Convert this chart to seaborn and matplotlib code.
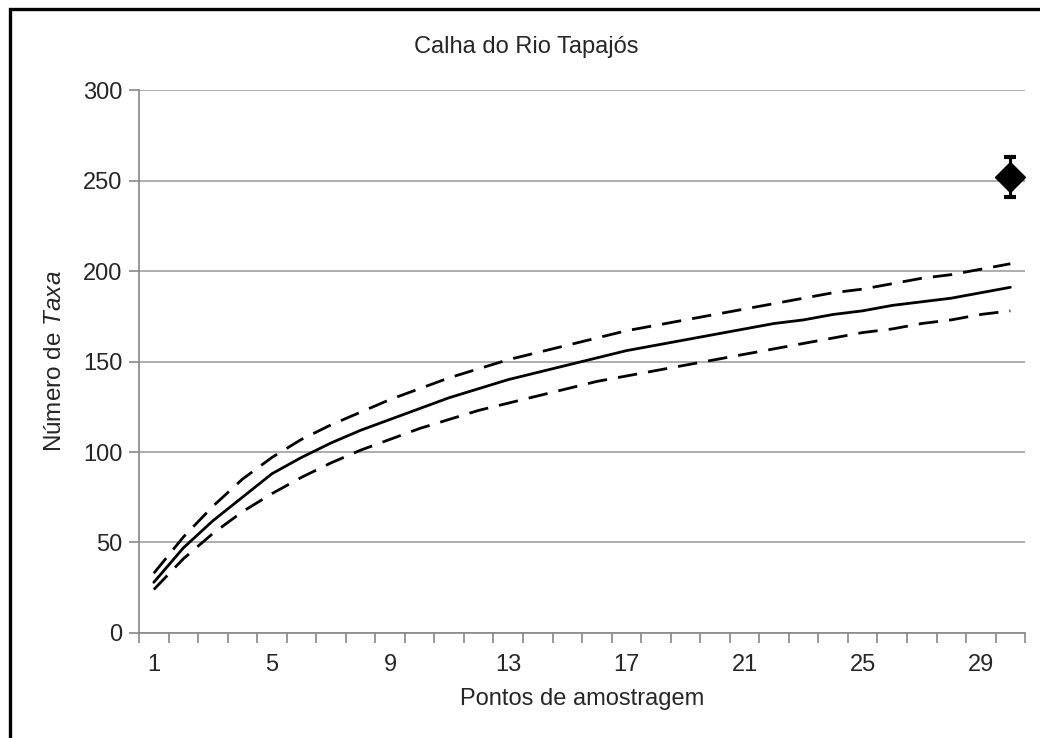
import matplotlib
matplotlib.use("Agg")
import matplotlib.pyplot as plt
import seaborn as sns
import pandas as pd
from matplotlib.patches import Rectangle

# data
pontos = list(range(1, 31))
media = [28, 47, 62, 75, 88, 97, 105, 112, 118, 124, 130, 135, 140, 144, 148,
         152, 156, 159, 162, 165, 168, 171, 173, 176, 178, 181, 183, 185, 188, 191]
superior = [33, 53, 70, 85, 97, 107, 115, 122, 129, 135, 141, 146, 151, 155, 159,
            163, 167, 170, 173, 176, 179, 182, 185, 188, 190, 193, 196, 198, 201, 204]
inferior = [24, 41, 55, 67, 77, 86, 94, 101, 107, 113, 118, 123, 127, 131, 135,
            139, 142, 145, 148, 151, 154, 157, 160, 163, 166, 168, 171, 173, 176, 178]
estimador_x = [30]
estimador_y = [252]
estimador_err = [11]
xticks = [1, 5, 9, 13, 17, 21, 25, 29]

sns.set_style("white")
plt.rcParams["font.family"] = ["Liberation Sans", "DejaVu Sans"]
plt.rcParams["mathtext.fontset"] = "custom"
plt.rcParams["mathtext.rm"] = "Liberation Sans"
plt.rcParams["mathtext.it"] = "Liberation Sans:italic"

df = pd.DataFrame({"ponto": pontos, "media": media,
                   "superior": superior, "inferior": inferior})

fig = plt.figure(figsize=(10.4, 7.38), dpi=100)
ax = fig.add_axes([0.1337, 0.1423, 0.852, 0.7357])

dash = (7, 4)
sns.lineplot(data=df, x="ponto", y="media", ax=ax, color="black", linewidth=2.0)
sns.lineplot(data=df, x="ponto", y="superior", ax=ax, color="black",
             linewidth=2.0).lines[-1].set_dashes(dash)
sns.lineplot(data=df, x="ponto", y="inferior", ax=ax, color="black",
             linewidth=2.0).lines[-1].set_dashes(dash)

ax.errorbar(estimador_x, estimador_y, yerr=estimador_err, fmt="D", color="black",
            markersize=15, elinewidth=2.2, capsize=4.5, capthick=3)

ax.set_xlim(0.5, 30.5)
ax.set_ylim(0, 300)
ax.set_yticks(range(0, 301, 50))
ax.set_xticks(xticks)
ax.set_xticks([i + 0.5 for i in range(0, 31)], minor=True)
ax.tick_params(axis="x", which="major", length=0, pad=15, labelsize=17)
ax.tick_params(axis="x", which="minor", length=7, width=1.2, color="#888888",
               direction="out", bottom=True)
ax.tick_params(axis="y", length=7, width=1.2, color="#888888", direction="out",
               left=True, labelsize=17, pad=5)
ax.grid(axis="y", color="#a0a0a0", linewidth=1.2)
ax.set_axisbelow(True)
for s in ["top", "right"]:
    ax.spines[s].set_visible(False)
for s in ["left", "bottom"]:
    ax.spines[s].set_color("#888888")
    ax.spines[s].set_linewidth(1.2)

fig.text(0.506, 0.936, "Calha do Rio Tapajós", fontsize=17, ha="center", va="center")
ax.set_xlabel("Pontos de amostragem", fontsize=17, labelpad=9)
ax.set_ylabel("Número de $\\mathit{Taxa}$", fontsize=17.5, labelpad=12)

fig.patches.append(Rectangle((0.0098, -0.01), 1.2, 0.998, transform=fig.transFigure,
                             fill=False, edgecolor="black", linewidth=2.4))

fig.savefig("out.png", dpi=100)
